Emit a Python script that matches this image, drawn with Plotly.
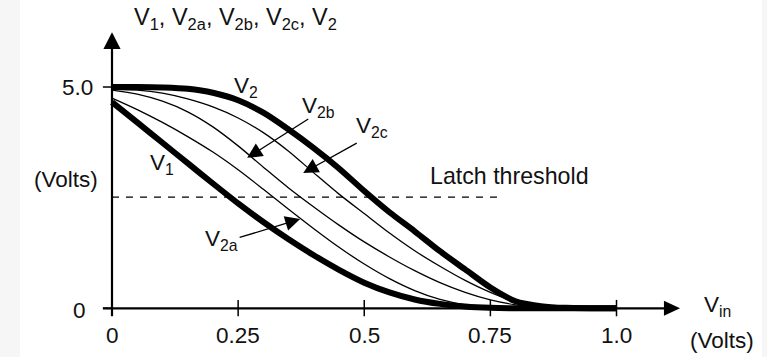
import plotly.graph_objects as go

# ---- data ----
vin = [0, 0.05, 0.1, 0.15, 0.2, 0.25, 0.3, 0.35, 0.4, 0.45, 0.5, 0.55, 0.6, 0.65, 0.7, 0.75, 0.8, 0.85, 0.9, 1.0]
v2 = [5.0, 5.0, 4.99, 4.96, 4.87, 4.7, 4.42, 4.04, 3.62, 3.16, 2.65, 2.17, 1.74, 1.29, 0.88, 0.47, 0.16, 0.05, 0.01, 0]
v2c = [4.95, 4.93, 4.86, 4.73, 4.55, 4.3, 3.97, 3.55, 3.06, 2.58, 2.14, 1.7, 1.3, 0.95, 0.63, 0.36, 0.15, 0.05, 0.01, 0]
v2b = [4.93, 4.84, 4.68, 4.44, 4.1, 3.67, 3.19, 2.72, 2.29, 1.88, 1.5, 1.16, 0.85, 0.58, 0.36, 0.19, 0.08, 0.03, 0.01, 0]
v2a = [4.75, 4.49, 4.2, 3.88, 3.53, 3.13, 2.69, 2.24, 1.8, 1.38, 1.0, 0.67, 0.4, 0.2, 0.08, 0.03, 0.01, 0, 0, 0]
v1 = [4.66, 4.2, 3.74, 3.28, 2.82, 2.37, 1.95, 1.56, 1.2, 0.87, 0.58, 0.36, 0.2, 0.1, 0.04, 0.01, 0, 0, 0, 0]

latch_level = 2.51
latch_x = [0, 0.77]

x_ticks = [0, 0.25, 0.5, 0.75, 1.0]
x_tick_text = ["0", "0.25", "0.5", "0.75", "1.0"]
y_ticks = [0, 5.0]
y_tick_text = ["0", "5.0"]

INK = "#111111"
FONT = "Liberation Sans, Arial, Helvetica, sans-serif"
FS = 22.5

fig = go.Figure()

def curve(y, w):
    fig.add_trace(go.Scatter(x=vin, y=y, mode="lines",
                             line=dict(color="black", width=w, shape="spline", smoothing=0.8),
                             hoverinfo="skip"))

curve(v2c, 1.3)
curve(v2b, 1.3)
curve(v2a, 1.3)
curve(v1, 6)
curve(v2, 6)

fig.add_trace(go.Scatter(x=latch_x, y=[latch_level] * len(latch_x), mode="lines",
                         line=dict(color="black", width=1.3, dash="7px,7px"), hoverinfo="skip"))

shapes = []
# axes
shapes.append(dict(type="line", x0=0, x1=0, y0=-0.18, y1=5.9, line=dict(color="black", width=2.2)))
shapes.append(dict(type="line", x0=-0.018, x1=1.10, y0=0, y1=0, line=dict(color="black", width=2.2)))
# arrowheads
shapes.append(dict(type="path", path="M -0.017 5.86 L 0.017 5.86 L 0 6.24 Z",
                   fillcolor="black", line=dict(color="black", width=0)))
shapes.append(dict(type="path", path="M 1.094 0.17 L 1.094 -0.17 L 1.126 0 Z",
                   fillcolor="black", line=dict(color="black", width=0)))
for t in y_ticks:
    shapes.append(dict(type="line", x0=-0.018, x1=0, y0=t, y1=t, line=dict(color="black", width=1.5)))
for t in x_ticks[1:]:
    shapes.append(dict(type="line", x0=t, x1=t, y0=-0.18, y1=0.19, line=dict(color="black", width=1.5)))
# light side strips of the scanned figure
shapes.append(dict(type="rect", xref="paper", yref="paper", x0=0, x1=0.026, y0=0, y1=1,
                   fillcolor="#f6f6f6", line=dict(width=0), layer="below"))
shapes.append(dict(type="rect", xref="paper", yref="paper", x0=0.9935, x1=1, y0=0, y1=1,
                   fillcolor="#f6f6f6", line=dict(width=0), layer="below"))

ann = []
def text(x, y, s, xa="center", ya="middle", size=FS):
    ann.append(dict(x=x, y=y, text=s, showarrow=False, xanchor=xa, yanchor=ya,
                    font=dict(family=FONT, size=size, color=INK)))

for t, s in zip(x_ticks, x_tick_text):
    text(t, -0.62, s)
text(-0.047, y_ticks[0] - 0.06, y_tick_text[0], xa="right")
text(-0.033, y_ticks[1], y_tick_text[1], xa="right")

text(0.244, 6.55, "V<sub>1</sub>, V<sub>2a</sub>, V<sub>2b</sub>, V<sub>2c</sub>, V<sub>2</sub>", size=23.5)
text(-0.092, 2.9, "(Volts)")
text(1.17, 0.05, "V<sub>in</sub>", xa="left")
text(1.209, -0.72, "(Volts)")
text(0.627, 3.0, "Latch threshold", xa="left", size=23.2)
text(0.237, 5.0, "V<sub>2</sub>", xa="left")
text(0.072, 3.25, "V<sub>1</sub>", xa="left")
text(0.372, 4.55, "V<sub>2b</sub>", xa="left")
text(0.48, 4.1, "V<sub>2c</sub>", xa="left")
text(0.18, 1.55, "V<sub>2a</sub>", xa="left")

def arrow(tail, tip):
    ann.append(dict(x=tip[0], y=tip[1], ax=tail[0], ay=tail[1], axref="x", ayref="y",
                    xref="x", yref="y", text="", showarrow=True, arrowhead=2,
                    arrowsize=2.3, arrowwidth=1.3, arrowcolor="black"))

arrow((0.392, 4.30), (0.268, 3.40))
arrow((0.488, 3.75), (0.379, 3.06))
arrow((0.25, 1.59), (0.373, 2.02))

fig.update_layout(
    width=767, height=357, margin=dict(l=0, r=0, t=0, b=0),
    paper_bgcolor="white", plot_bgcolor="white", showlegend=False,
    xaxis=dict(range=[-0.222, 1.2983], visible=False, fixedrange=True),
    yaxis=dict(range=[-1.100, 6.966], visible=False, fixedrange=True),
    shapes=shapes, annotations=ann,
)

fig.write_html("out.html", config={"displayModeBar": False},
               post_script="document.body.style.margin='0px';")
